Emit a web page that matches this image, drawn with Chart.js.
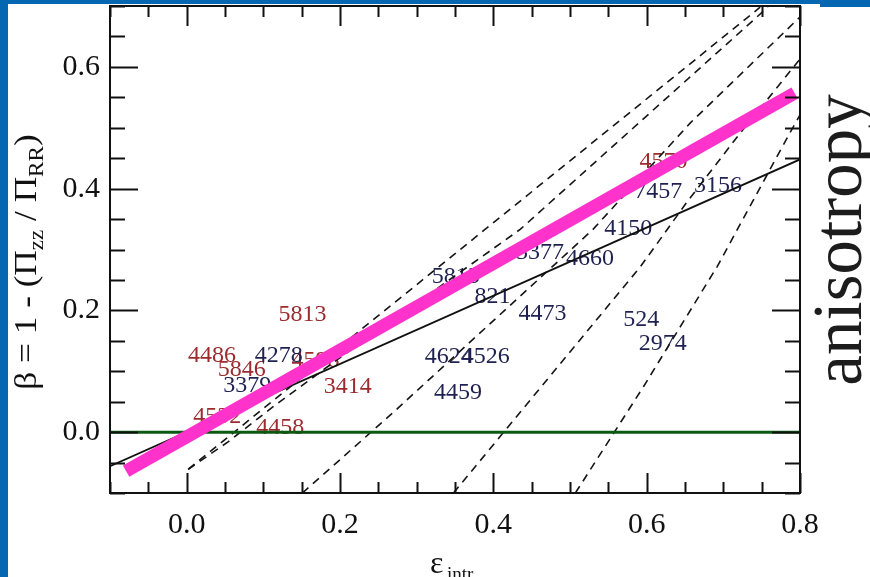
<!DOCTYPE html>
<html>
<head>
<meta charset="utf-8">
<script src="https://cdn.jsdelivr.net/npm/chart.js@4.4.1/dist/chart.umd.min.js"></script>
<style>
  html, body { margin: 0; padding: 0; background: #fff; }
  #wrap { width: 870px; height: 577px; position: relative; }
</style>
</head>
<body>
<div id="wrap"><canvas id="myChart" width="870" height="577"></canvas></div>
<script>
// axis ranges
const xMin = -0.1, xMax = 0.8;
const yMin = -0.1, yMax = 0.7;

// thick fit line, thin solid line, zero line
const fitX = [-0.079, 0.793];
const fitY = [-0.064, 0.557];
const solidX = [-0.1, 0.8];
const solidY = [-0.056, 0.448];
const zeroX = [-0.1, 0.8];
const zeroY = [0, 0];

// dashed model curves (eps, beta)
const dashAX = [0.002, 0.748];
const dashAY = [-0.061, 0.698];
const dashBX = [0.002, 0.054, 0.114, 0.192, 0.435, 0.758];
const dashBY = [-0.061, -0.016, 0.043, 0.115, 0.333, 0.698];
const dashCX = [0.151, 0.270, 0.530, 0.657, 0.800];
const dashCY = [-0.100, 0.033, 0.333, 0.508, 0.682];
const dashDX = [0.348, 0.592, 0.652, 0.715, 0.800];
const dashDY = [-0.100, 0.272, 0.377, 0.480, 0.613];
const dashEX = [0.507, 0.596, 0.692, 0.787, 0.800];
const dashEY = [-0.100, 0.075, 0.272, 0.492, 0.521];

// object numbers, red set
const redNames = ['5813', '4486', '5846', '4532', '4458', '3414', '4598', '4570'];
const redX = [0.151, 0.033, 0.072, 0.040, 0.122, 0.210, 0.168, 0.622];
const redY = [0.193, 0.125, 0.103, 0.025, 0.008, 0.074, 0.118, 0.444];

// object numbers, blue set
const blueNames = ['4278', '3379', '5813', '821', '3377', '4660', '4473', '524', '2974', '4624', '4526', '4459', '4150', '7457', '3156'];
const blueX = [0.120, 0.079, 0.351, 0.399, 0.461, 0.526, 0.464, 0.593, 0.621, 0.342, 0.390, 0.354, 0.576, 0.615, 0.693];
const blueY = [0.126, 0.077, 0.256, 0.223, 0.295, 0.285, 0.195, 0.184, 0.146, 0.124, 0.124, 0.065, 0.334, 0.395, 0.405];

const serif = "'Liberation Serif', 'DejaVu Serif', serif";

function pts(xs, ys) {
    return xs.map((v, i) => ({x: v, y: ys[i]}));
}
function isMajor(v) {
    return Math.abs(v * 5 - Math.round(v * 5)) < 1e-6;
}

function dashed(xs, ys) {
    return {
        data: pts(xs, ys),
        borderColor: '#151515',
        borderWidth: 1.6,
        borderDash: [8, 6],
        pointRadius: 0,
        tension: 0
    };
}

// page frame in blue
const pageFrame = {
    id: 'pageFrame',
    beforeDraw(chart) {
        const ctx = chart.ctx;
        ctx.save();
        ctx.fillStyle = '#fff';
        ctx.fillRect(0, 0, chart.width, chart.height);
        ctx.fillStyle = '#0567b1';
        ctx.fillRect(0, 0, 8, chart.height);
        ctx.fillRect(0, 0, chart.width, 4);
        ctx.fillRect(820, 0, 50, 7);
        ctx.restore();
    }
};

// numbers written at their points, under the lines
const nameLabels = {
    id: 'nameLabels',
    beforeDatasetsDraw(chart) {
        const {ctx, scales: {x, y}} = chart;
        ctx.save();
        ctx.font = '24px ' + serif;
        ctx.textAlign = 'center';
        ctx.textBaseline = 'middle';
        ctx.fillStyle = '#9b2b2f';
        redNames.forEach((n, i) => ctx.fillText(n, x.getPixelForValue(redX[i]), y.getPixelForValue(redY[i])));
        ctx.fillStyle = '#1f2150';
        blueNames.forEach((n, i) => ctx.fillText(n, x.getPixelForValue(blueX[i]), y.getPixelForValue(blueY[i])));
        ctx.restore();
    }
};

// box and inward ticks on all four sides, plus axis titles
const boxTicks = {
    id: 'boxTicks',
    afterDraw(chart) {
        const {ctx, chartArea: a, scales: {x, y}} = chart;
        ctx.save();
        ctx.strokeStyle = '#111';
        ctx.lineWidth = 2;
        ctx.strokeRect(a.left, a.top, a.right - a.left, a.bottom - a.top);
        ctx.beginPath();
        x.ticks.forEach(t => {
            const px = Math.round(x.getPixelForValue(t.value)) + 0.5;
            const len = isMajor(t.value) ? 20 : 11;
            ctx.moveTo(px, a.bottom); ctx.lineTo(px, a.bottom - len);
            ctx.moveTo(px, a.top); ctx.lineTo(px, a.top + len);
        });
        y.ticks.forEach(t => {
            const py = Math.round(y.getPixelForValue(t.value)) + 0.5;
            const len = isMajor(t.value) ? 28 : 15;
            ctx.moveTo(a.left, py); ctx.lineTo(a.left + len, py);
            ctx.moveTo(a.right, py); ctx.lineTo(a.right - len, py);
        });
        ctx.stroke();

        // x title: epsilon_intr
        ctx.fillStyle = '#111';
        ctx.textBaseline = 'alphabetic';
        ctx.textAlign = 'left';
        ctx.font = '32px ' + serif;
        const cx = (a.left + a.right) / 2;
        ctx.fillText('\u03b5', cx - 25, 573);
        ctx.font = '19px ' + serif;
        ctx.fillText('intr', cx - 8, 580);

        // y title: beta = 1 - (Pi_zz / Pi_RR)
        const parts = [['\u03b2 = 1 - (\u03a0', 32, 0], ['zz', 21, 7], [' / \u03a0', 32, 0], ['RR', 21, 7], [')', 32, 0]];
        let total = 0;
        parts.forEach(p => { ctx.font = p[1] + 'px ' + serif; total += ctx.measureText(p[0]).width; });
        ctx.save();
        ctx.translate(36, 262);
        ctx.rotate(-Math.PI / 2);
        ctx.scale(1.1, 1);
        let pos = -total / 2;
        parts.forEach(p => {
            ctx.font = p[1] + 'px ' + serif;
            ctx.fillText(p[0], pos, p[2]);
            pos += ctx.measureText(p[0]).width;
        });
        ctx.restore();

        // side word
        ctx.save();
        ctx.translate(861, 240);
        ctx.rotate(-Math.PI / 2);
        ctx.font = '69px ' + serif;
        ctx.fillStyle = '#1c1c1c';
        ctx.textAlign = 'center';
        ctx.fillText('anisotropy', 0, 0);
        ctx.restore();
        ctx.restore();
    }
};

const ctx = document.getElementById('myChart').getContext('2d');
const myChart = new Chart(ctx, {
    type: 'line',
    data: {
        datasets: [
            {data: pts(fitX, fitY), borderColor: '#ff33cc', borderWidth: 13, borderCapStyle: 'butt', pointRadius: 0},
            {data: pts(solidX, solidY), borderColor: '#111', borderWidth: 1.8, pointRadius: 0},
            {data: pts(zeroX, zeroY), borderColor: '#0b5a12', borderWidth: 3, pointRadius: 0},
            dashed(dashAX, dashAY),
            dashed(dashBX, dashBY),
            dashed(dashCX, dashCY),
            dashed(dashDX, dashDY),
            dashed(dashEX, dashEY)
        ]
    },
    options: {
        responsive: false,
        animation: false,
        layout: {padding: {top: 6, right: 70, left: 0, bottom: 0}},
        plugins: {legend: {display: false}, tooltip: {enabled: false}},
        scales: {
            x: {
                type: 'linear', min: xMin, max: xMax, position: 'bottom',
                grid: {display: false, drawTicks: false},
                border: {display: false},
                ticks: {
                    stepSize: 0.05, autoSkip: false, maxRotation: 0, padding: 14,
                    color: '#111', font: {family: serif, size: 30},
                    callback: v => isMajor(v) ? Math.abs(v).toFixed(1) : ''
                },
                afterFit: s => { s.height = 84; s.paddingLeft = 0; s.paddingRight = 0; }
            },
            y: {
                type: 'linear', min: yMin, max: yMax, position: 'left',
                grid: {display: false, drawTicks: false},
                border: {display: false},
                ticks: {
                    stepSize: 0.05, autoSkip: false, padding: 10,
                    color: '#111', font: {family: serif, size: 30},
                    callback: v => (isMajor(v) && v > -0.05) ? Math.abs(v).toFixed(1) : ''
                },
                afterFit: s => { s.width = 110; s.paddingTop = 0; s.paddingBottom = 0; }
            }
        }
    },
    plugins: [pageFrame, nameLabels, boxTicks]
});
</script>
</body>
</html>
